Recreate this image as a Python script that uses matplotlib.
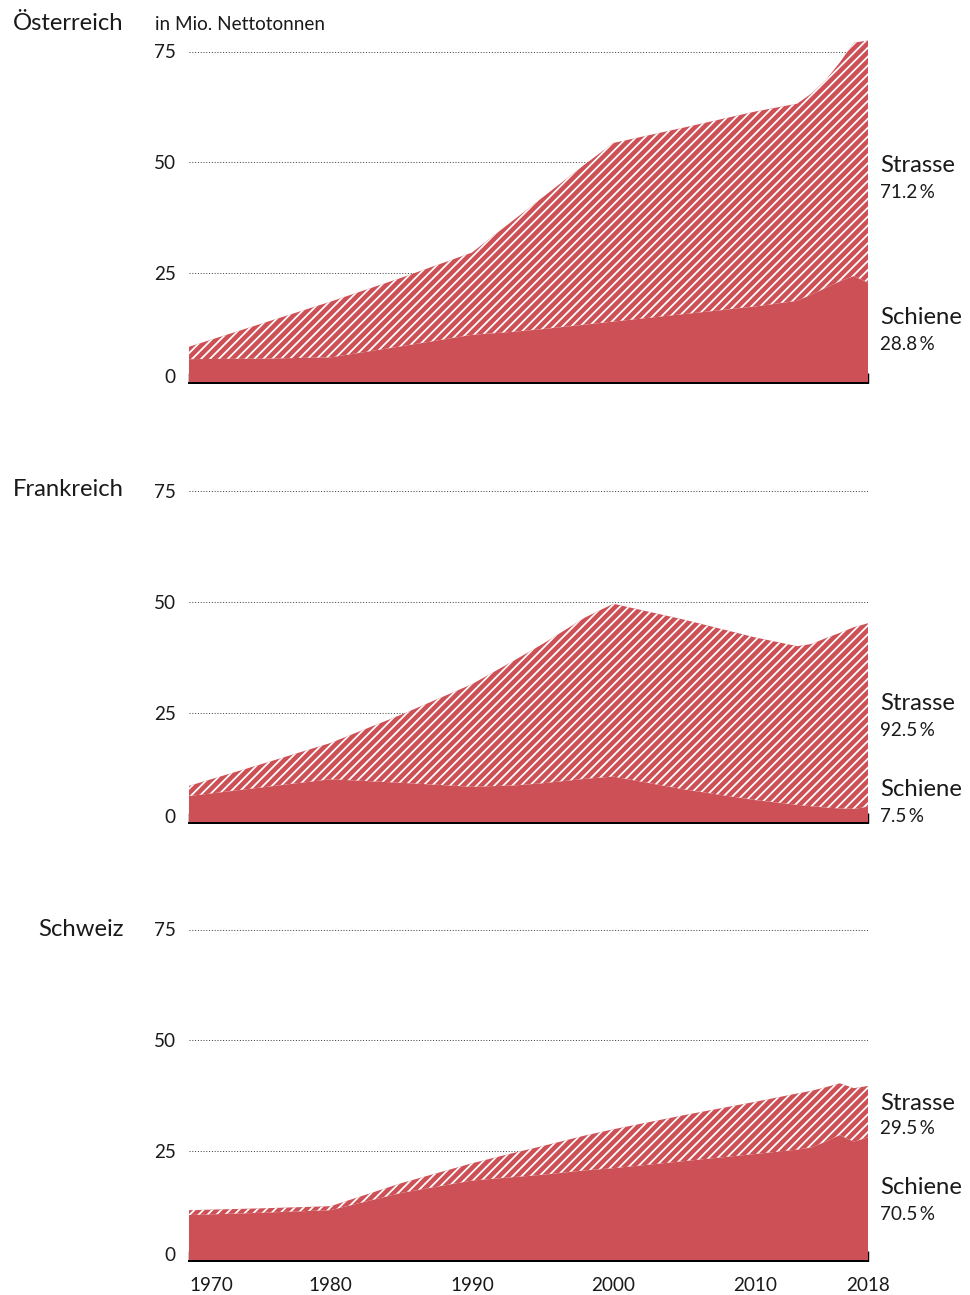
import numpy as np
import matplotlib as mpl
mpl.use('Agg')
from matplotlib import pyplot as plt

plt.rcParams['font.family'] = ['Lato', 'DejaVu Sans']
plt.rcParams['hatch.linewidth'] = 1.6

# Gueterverkehr durch die Alpen, in Mio. Nettotonnen
years = [1970, 1975, 1980, 1985, 1990, 1993, 1995, 1998, 2000, 2005, 2010, 2013, 2014, 2015, 2016, 2017, 2018]

at_rail = [5.4, 5.5, 5.8, 8.3, 10.9, 11.6, 12.2, 13.2, 13.9, 15.6, 17.3, 18.6, 20.0, 21.5, 23.0, 24.2, 22.7]
at_road = [2.8, 7.8, 12.6, 15.5, 18.6, 25.4, 29.8, 36.3, 40.4, 42.2, 44.1, 44.6, 45.5, 47.0, 49.5, 52.8, 54.8]

fr_rail = [6.1, 8.0, 9.9, 9.1, 8.2, 8.5, 9.0, 10.0, 10.5, 7.6, 5.2, 4.1, 3.8, 3.5, 3.3, 3.2, 3.7]
fr_road = [2.3, 5.2, 8.2, 15.4, 23.2, 28.3, 31.5, 36.5, 39.1, 38.4, 36.8, 35.9, 36.7, 38.3, 39.7, 41.1, 41.5]

ch_rail = [10.4, 10.9, 11.5, 15.4, 18.2, 19.0, 19.5, 20.5, 21.0, 22.6, 24.2, 25.2, 25.7, 27.0, 28.5, 27.0, 28.0]
ch_road = [1.1, 1.0, 0.9, 2.2, 3.9, 5.5, 6.5, 7.9, 8.8, 10.4, 11.8, 12.7, 12.8, 12.3, 11.7, 12.1, 11.6]

countries = ['Österreich', 'Frankreich', 'Schweiz']
road_share = ['71.2\u2009%', '92.5\u2009%', '29.5\u2009%']
rail_share = ['28.8\u2009%', '7.5\u2009%', '70.5\u2009%']
yticks = [0, 25, 50, 75]
xticks = [1970, 1980, 1990, 2000, 2010, 2018]

red = '#cc5055'
txt = '#1a1a1a'

W, H = 970, 1295
fig = plt.figure(figsize=(W / 80, H / 80), dpi=80)

zero_px = [383, 823, 1261]      # pixel row of the zero line
unit_px = 4.42                  # pixels per million tonnes
ytop = 80
# label rows (pixels): strasse, strasse %, schiene, schiene %
lab_rows = [(165, 192, 317, 344), (703, 730, 789, 816), (1103, 1129, 1188, 1214)]
name_rows = [24, 490, 929]

big = 21.5
small = 17

data = [(at_rail, at_road), (fr_rail, fr_road), (ch_rail, ch_road)]

for i, (rail, road) in enumerate(data):
    rail = np.array(rail)
    road = np.array(road)
    h = ytop * unit_px
    ax = fig.add_axes([189 / W, 1 - zero_px[i] / H, 679 / W, h / H])

    for v in yticks[1:]:
        ax.axhline(v, color='#444444', lw=0.9, ls=(0, (1, 1.8)), zorder=0)

    ax.fill_between(years, 0, rail, facecolor=red, lw=0, zorder=2)
    ax.fill_between(years, rail, rail + road, facecolor=red, edgecolor='white',
                    hatch='///', lw=0, zorder=2)

    ax.set_xlim(1970, 2018)
    ax.set_ylim(0, ytop)
    for s in ['top', 'right', 'left']:
        ax.spines[s].set_visible(False)
    ax.spines['bottom'].set_linewidth(1.8)
    ax.spines['bottom'].set_zorder(3)
    ax.set_xticks(xticks)
    ax.tick_params(axis='x', direction='in', length=9, width=1.3, color='black', pad=14)
    if i == 2:
        ax.set_xticklabels([str(x) for x in xticks], fontsize=small, color=txt)
        ax.get_xticklabels()[0].set_ha('left')
    else:
        ax.set_xticklabels([])
    ax.set_yticks(yticks)
    ax.set_yticklabels([str(v) for v in yticks], fontsize=small, color=txt)
    ax.tick_params(axis='y', length=0, pad=12)
    ax.get_yticklabels()[0].set_va('baseline')

    fig.text(124 / W, 1 - name_rows[i] / H, countries[i], fontsize=big, color=txt,
             ha='right', va='center')
    r = lab_rows[i]
    fig.text(880 / W, 1 - r[0] / H, 'Strasse', fontsize=big, color=txt, va='center')
    fig.text(880 / W, 1 - r[1] / H, road_share[i], fontsize=small, color=txt, va='center')
    fig.text(880 / W, 1 - r[2] / H, 'Schiene', fontsize=big, color=txt, va='center')
    fig.text(880 / W, 1 - r[3] / H, rail_share[i], fontsize=small, color=txt, va='center')

fig.text(155 / W, 1 - 25 / H, 'in Mio. Nettotonnen', fontsize=small, color=txt, va='center')

plt.savefig('out.png', dpi=80)
